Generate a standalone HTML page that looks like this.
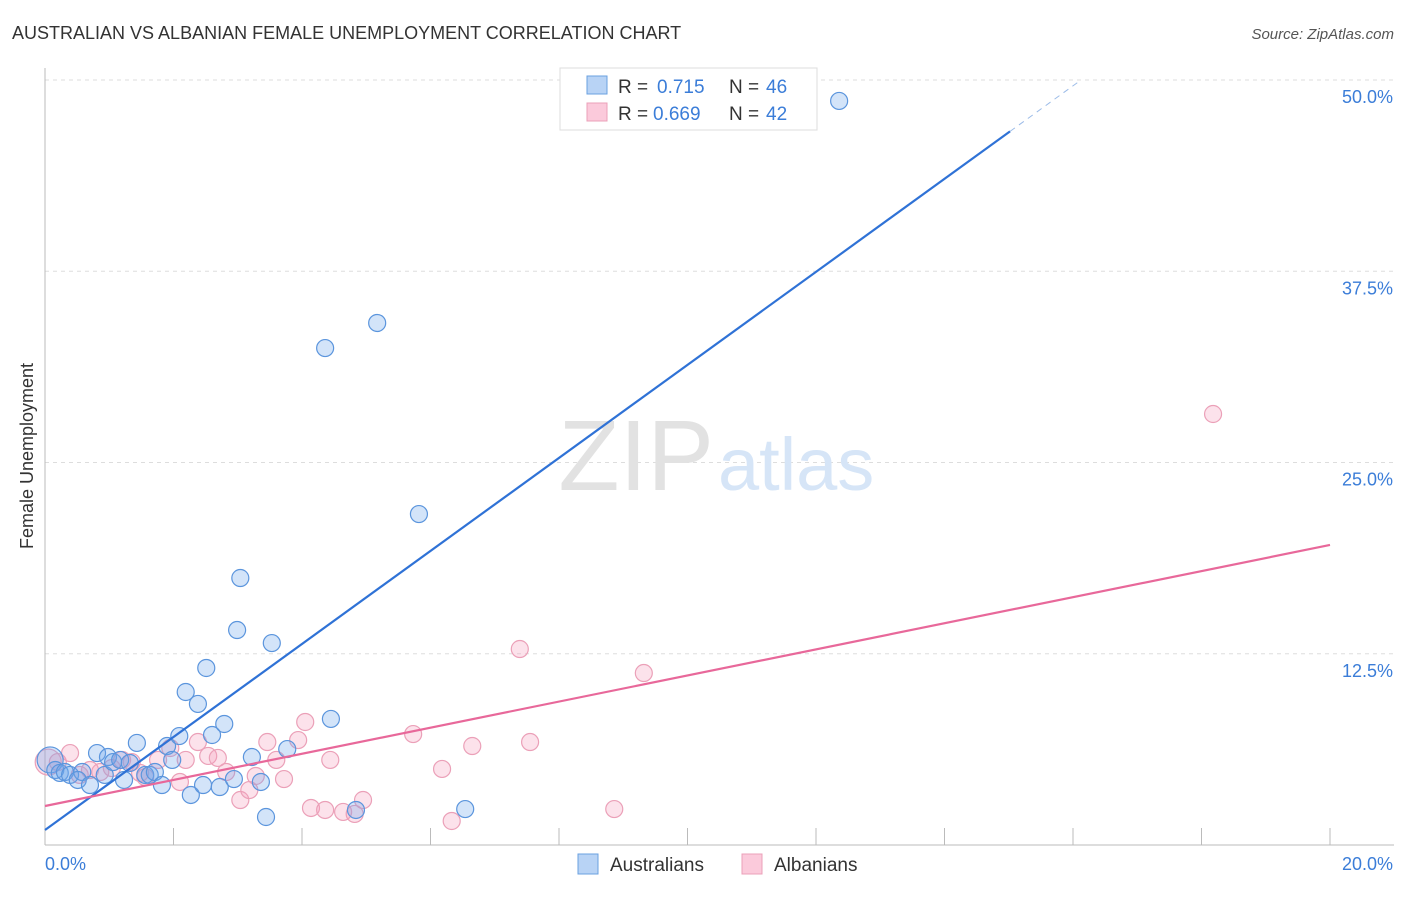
<!DOCTYPE html>
<html><head><meta charset="utf-8"><style>
body{margin:0;background:#fff;font-family:"Liberation Sans",sans-serif}
svg text{font-family:"Liberation Sans",sans-serif}
</style></head><body>
<svg id="c" width="1406" height="892">
<text x="12" y="39" font-size="18" fill="#333">AUSTRALIAN VS ALBANIAN FEMALE UNEMPLOYMENT CORRELATION CHART</text>
<text x="1394" y="39" font-size="15" fill="#555" text-anchor="end" font-style="italic">Source: ZipAtlas.com</text>
<text x="33" y="456" font-size="18" fill="#333" text-anchor="middle" transform="rotate(-90 33 456)">Female Unemployment</text>
<g id="grid"></g>
<text x="714" y="490" font-size="100" fill="#e2e2e2" text-anchor="end" font-family="Liberation Serif">ZIP</text>
<text x="718" y="490" font-size="74" fill="#d6e5f7">atlas</text>
<g id="marks"></g>
<g>
<rect x="560" y="68" width="257" height="62" fill="#fff" stroke="#ddd"/>
<rect x="587" y="76" width="20" height="18" fill="#b8d3f5" stroke="#6aa0e0"/>
<rect x="587" y="103" width="20" height="18" fill="#fbcadb" stroke="#eba0b8"/>
<text x="618" y="93" font-size="19" fill="#333">R =</text>
<text x="657" y="93" font-size="19" fill="#3b7dd8">0.715</text>
<text x="729" y="93" font-size="19" fill="#333">N =</text>
<text x="766" y="93" font-size="19" fill="#3b7dd8">46</text>
<text x="618" y="120" font-size="19" fill="#333">R =</text>
<text x="653" y="120" font-size="19" fill="#3b7dd8">0.669</text>
<text x="729" y="120" font-size="19" fill="#333">N =</text>
<text x="766" y="120" font-size="19" fill="#3b7dd8">42</text>
</g>
<g>
<rect x="578" y="854" width="20" height="20" fill="#b8d3f5" stroke="#6aa0e0"/>
<text x="610" y="871" font-size="19" fill="#333">Australians</text>
<rect x="742" y="854" width="20" height="20" fill="#fbcadb" stroke="#eba0b8"/>
<text x="774" y="871" font-size="19" fill="#333">Albanians</text>
</g>
</svg>
<script>
const yTicks=[12.5,25,37.5,50];
const yTickLabels=["12.5%","25.0%","37.5%","50.0%"];
const xTickLabels=["0.0%","20.0%"];
const auX=[0.08,0.16,0.23,0.31,0.39,0.58,0.51,0.70,0.81,0.93,0.98,1.06,1.17,1.23,1.32,1.43,1.56,1.63,1.71,1.82,1.90,1.98,2.09,2.19,2.27,2.38,2.46,2.51,2.60,2.72,2.79,2.94,2.99,3.04,3.22,3.36,3.44,3.53,3.77,4.36,4.45,4.84,5.17,5.82,6.54,12.36];
const auY=[5.56,4.90,4.71,4.77,4.58,4.77,4.25,3.92,6.01,4.58,5.75,5.42,5.56,4.25,5.36,6.67,4.58,4.58,4.77,3.92,6.47,5.56,7.12,10.0,3.27,9.22,3.92,11.57,7.19,3.79,7.91,4.31,14.05,17.45,5.75,4.12,1.83,13.20,6.27,32.48,8.24,2.29,34.12,21.63,2.35,48.63];
const alX=[0.05,0.20,0.39,0.54,0.70,0.86,1.04,1.20,1.35,1.48,1.56,1.76,1.95,2.10,2.19,2.38,2.54,2.69,2.82,3.04,3.18,3.28,3.46,3.60,3.72,3.94,4.05,4.14,4.36,4.44,4.64,4.82,4.95,5.73,6.18,6.33,6.65,7.39,7.55,8.86,9.32,18.18];
const alY=[5.42,5.42,6.01,4.58,4.90,4.77,5.03,5.56,5.42,4.71,4.44,5.56,6.34,4.12,5.56,6.73,5.82,5.69,4.77,2.94,3.59,4.51,6.73,5.56,4.31,6.86,8.04,2.42,2.29,5.56,2.16,2.03,2.94,7.25,4.97,1.57,6.47,12.81,6.73,2.35,11.24,28.17];
const auTrend=[0.98,3.04];
const alTrend=[2.55,0.853];
const NS="http://www.w3.org/2000/svg";
const X=v=>45+v*64.25, Y=v=>845-v*15.3;
function mk(t,a,p){const e=document.createElementNS(NS,t);for(const k in a)e.setAttribute(k,a[k]);(p||document.getElementById('c')).appendChild(e);return e;}
const g=document.getElementById('grid'), m=document.getElementById('marks');
yTicks.forEach((t,i)=>{
 const l=mk('line',{x1:45,x2:1394,y1:Y(t),y2:Y(t),stroke:'#ddd','stroke-dasharray':'4,4'},g);
 
 
 const tx=mk('text',{x:1393,y:Y(t)+23,'font-size':18,fill:'#3b7dd8','text-anchor':'end'},g);tx.textContent=yTickLabels[i];
 
 
});
mk('line',{x1:45,x2:45,y1:68,y2:845,stroke:'#bbb'},g);
mk('line',{x1:45,x2:1394,y1:845,y2:845,stroke:'#bbb'},g);
for(let i=1;i<=10;i++){mk('line',{x1:X(i*2),x2:X(i*2),y1:828,y2:845,stroke:'#bbb'},g);}
[[0,'start'],[20,'end']].forEach((d,i)=>{const t=mk('text',{x:X(d[0])+(i?63:0),y:870,'font-size':18,fill:'#3b7dd8','text-anchor':d[1]},g);t.textContent=xTickLabels[i];
 
 });
function pts(xs,ys,fill,stroke,name){xs.forEach((x,i)=>{const c=mk('circle',{cx:X(x),cy:Y(ys[i]),r:i==0?13:8.5,fill:fill,stroke:stroke,'stroke-width':1.2},m);
 
 });}
pts(alX,alY,'rgba(245,160,190,0.3)','#eba0b8','albanian-point');
pts(auX,auY,'rgba(110,165,235,0.3)','#5b95dd','australian-point');
let l1=mk('line',{x1:X(0),y1:Y(auTrend[0]),x2:X(15.02),y2:Y(auTrend[0]+auTrend[1]*15.02),stroke:'#2f72d6','stroke-width':2.2},m);


mk('line',{x1:X(15.02),y1:Y(auTrend[0]+auTrend[1]*15.02),x2:X(16.1),y2:Y(auTrend[0]+auTrend[1]*16.1),stroke:'#9bbbe8','stroke-width':1,'stroke-dasharray':'6,5'},m);
let l2=mk('line',{x1:X(0),y1:Y(alTrend[0]),x2:X(20),y2:Y(alTrend[0]+alTrend[1]*20),stroke:'#e8689a','stroke-width':2.2},m);


</script>
</body></html>
